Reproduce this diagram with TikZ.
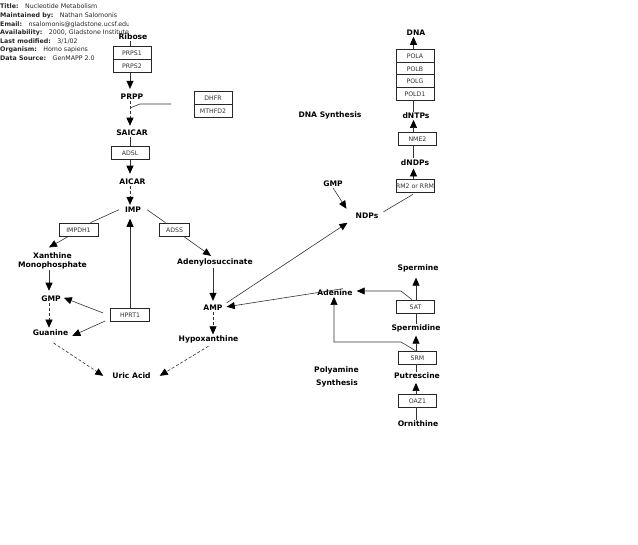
\documentclass[tikz,border=0pt]{standalone}
\usepackage{fontspec}
\setmainfont{DejaVu Sans}
\usetikzlibrary{arrows.meta}
\tikzset{
gene/.style = {draw=black!85, fill=white, line width=0.7pt, minimum width=38pt, minimum height=13pt, inner sep=0pt, text height=5.6pt, text depth=0pt, font=\fontsize{6.2}{7.5}\selectfont, text=black!80}
         }
\tikzset{
metab/.style = {inner sep=1pt, align=center, yshift=-0.8pt, font=\fontsize{7.6}{9}\selectfont\bfseries}
         }
\tikzset{
info/.style = {anchor=west, inner sep=0pt, yshift=-0.6pt, font=\fontsize{6.3}{7.5}\selectfont, text=black!85}
         }
\tikzset{
linha/.style = {draw=black!80, line width=0.6pt}
         }
\tikzset{
seta/.style = {linha, -{Triangle[length=8pt,width=7pt,color=black]}}
         }
\tikzset{
tracejada/.style = {seta, dash pattern=on 3pt off 2pt}
         }
\begin{document}
\begin{tikzpicture}[x=1pt,y=-1pt]
    \useasboundingbox (0,0) rectangle (638,545);

    % CABECALHO
    \begin{scope}
        \clip (0,0) rectangle (128,64);
        \node[info] (TIT) at (0,5.7) {\textbf{Title:}\hspace{6.5pt}Nucleotide Metabolism};
        \node[info] (MAN) at (0,14.8) {\textbf{Maintained by:}\hspace{6.5pt}Nathan Salomonis};
        \node[info] (EMA) at (0,23.8) {\textbf{Email:}\hspace{6.5pt}nsalomonis@gladstone.ucsf.edu};
        \node[info] (AVA) at (0,32.3) {\textbf{Availability:}\hspace{6.5pt}2000, Gladstone Institute};
        \node[info] (LAS) at (0,40.6) {\textbf{Last modified:}\hspace{6.5pt}3/1/02};
        \node[info] (ORG) at (0,49.5) {\textbf{Organism:}\hspace{6.5pt}Homo sapiens};
        \node[info] (SOU) at (0,57.3) {\textbf{Data Source:}\hspace{6.5pt}GenMAPP 2.0};
    \end{scope}

    % EIXOS
    \coordinate (XP) at (130,0);
    \coordinate (XG) at (49,0);
    \coordinate (XA) at (213,0);
    \coordinate (XD) at (413.5,0);
    \coordinate (XS) at (416,0);

    % PURINAS
    \node[metab] (RIB) at (133,36) {Ribose};
    \node[gene] (PRPS1) at (132,53) {PRPS1};
    \node[gene] (PRPS2) at (132,66) {PRPS2};
    \node[metab] (PRPP) at (132,96) {PRPP};
    \node[gene] (DHFR) at (213,98) {DHFR};
    \node[gene] (MTHFD2) at (213,111) {MTHFD2};
    \node[metab] (SAICAR) at (132,132) {SAICAR};
    \node[gene] (ADSL) at (130,153) {ADSL};
    \node[metab] (AICAR) at (132.5,181) {AICAR};
    \node[metab] (IMP) at (133,209) {IMP};
    \node[gene,minimum width=39pt] (IMPDH1) at (78.5,229.5) {IMPDH1};
    \node[gene,minimum width=30pt] (ADSS) at (174.5,229.5) {ADSS};
    \node[metab] (XMP) at (52.5,260) {Xanthine\\Monophosphate};
    \node[metab] (ASUC) at (215,262) {Adenylosuccinate};
    \node[metab] (GMP) at (51,298) {GMP};
    \node[metab] (AMP) at (213,307) {AMP};
    \node[gene,minimum width=39pt] (HPRT1) at (130,315) {HPRT1};
    \node[metab] (GUA) at (50.5,332) {Guanine};
    \node[metab] (HYP) at (208.5,338.5) {Hypoxanthine};
    \node[metab] (URIC) at (131.5,375) {Uric Acid};

    % DNA
    \node[metab] (DNA) at (416,32) {DNA};
    \node[gene] (POLA) at (415,55.5) {POLA};
    \node[gene] (POLB) at (415,68.5) {POLB};
    \node[gene] (POLG) at (415,81) {POLG};
    \node[gene] (POLD1) at (415,93.5) {POLD1};
    \node[metab] (DNTP) at (416,115) {dNTPs};
    \node[metab] (DSYN) at (330,115) {DNA Synthesis};
    \node[gene] (NME2) at (417.5,138.5) {NME2};
    \node[metab] (DNDP) at (415,161.5) {dNDPs};
    \node[gene] (RRM) at (415,185.5) {RM2 or RRM};
    \node[metab] (GMPN) at (333,183) {GMP};
    \node[metab] (NDP) at (367,215) {NDPs};

    % POLIAMINAS
    \node[metab] (SPM) at (418,268) {Spermine};
    \node[metab] (ADE) at (335,292) {Adenine};
    \node[gene] (SAT) at (415.5,306.5) {SAT};
    \node[metab] (SPD) at (416,328) {Spermidine};
    \node[gene] (SRM) at (417.5,357.5) {SRM};
    \node[metab] (PYA) at (336.5,370) {Polyamine};
    \node[metab] (PSY) at (337,383) {Synthesis};
    \node[metab] (PUT) at (417,375) {Putrescine};
    \node[gene] (OAZ1) at (417.5,400.5) {OAZ1};
    \node[metab] (ORN) at (418,423) {Ornithine};

    % VIA PRINCIPAL
    \draw[linha] (XP |- RIB.south) -- (XP |- PRPS1.north);
    \draw[seta,shorten >=4pt] (XP |- PRPS2.south) -- (XP |- PRPP.north);
    \draw[tracejada,shorten >=3pt] (XP |- PRPP.south) -- (XP |- SAICAR.north);
    \draw[linha] (XP |- SAICAR.south) -- (XP |- ADSL.north);
    \draw[seta,shorten >=4pt] (XP |- ADSL.south) -- (XP |- AICAR.north);
    \draw[tracejada,shorten >=1pt] (XP |- AICAR.south) -- (XP |- IMP.north);
    \coordinate (DH1) at (171,104);
    \coordinate (DH2) at (140,104);
    \coordinate (DH3) at (130,108);
    \draw[linha] (DH1) -- (DH2) -- (DH3);

    % RAMOS
    \draw[linha] ([xshift=-5pt]IMP.west) -- ([xshift=12pt]IMPDH1.north);
    \draw[seta] ([xshift=-10pt]IMPDH1.south) -- ([xshift=-3.5pt,yshift=4pt]XMP.north);
    \draw[seta,shorten >=4pt] (XG |- XMP.south) -- (XG |- GMP.north);
    \draw[tracejada,shorten >=1pt] (XG |- GMP.south) -- (XG |- GUA.north);
    \draw[seta,shorten >=5pt] (XP |- HPRT1.north) -- (XP |- IMP.south);
    \draw[seta] ([xshift=-7pt,yshift=2pt]HPRT1.west) -- ([xshift=2pt,yshift=1pt]GMP.east);
    \draw[seta] ([xshift=-5pt,yshift=-6pt]HPRT1.west) -- ([xshift=3pt,yshift=-3pt]GUA.east);
    \draw[tracejada] ([xshift=3pt,yshift=-6pt]GUA.south) -- ([xshift=-8pt]URIC.west);
    \draw[linha] ([xshift=5pt]IMP.east) -- ([xshift=-9pt]ADSS.north);
    \draw[seta] ([xshift=9pt]ADSS.south) -- ([xshift=-4pt,yshift=2pt]ASUC.north);
    \draw[seta,shorten >=3pt] (XA |- ASUC.south) -- (XA |- AMP.north);
    \draw[tracejada] (XA |- AMP.south) -- (XA |- HYP.north);
    \draw[tracejada] ([yshift=-2pt]HYP.south) -- ([xshift=8pt]URIC.east);

    % LIGACOES ENTRE VIAS
    \draw[seta] ([xshift=3pt,yshift=5pt]AMP.east) -- ([xshift=-7pt,yshift=-11pt]NDP.north west);
    \draw[seta] ([xshift=8pt]ADE.north) -- ([xshift=3pt,yshift=1pt]AMP.east);

    % SINTESE DE DNA
    \draw[seta] (GMPN.south) -- ([xshift=-8pt,yshift=3pt]NDP.north west);
    \draw[linha] ([xshift=4pt,yshift=4pt]NDP.east) -- ([xshift=-2pt,yshift=-2pt]RRM.south);
    \draw[seta,shorten >=2pt] (XD |- RRM.north) -- (XD |- DNDP.south);
    \draw[linha] (XD |- DNDP.north) -- (XD |- NME2.south);
    \draw[seta] (XD |- NME2.north) -- (XD |- DNTP.south);
    \draw[linha] (XD |- DNTP.north) -- (XD |- POLD1.south);
    \draw[seta] (XD |- POLA.north) -- (XD |- DNA.south);

    % SINTESE DE POLIAMINAS
    \draw[linha] (XS |- ORN.north) -- (XS |- OAZ1.south);
    \draw[seta,shorten >=3pt] (XS |- OAZ1.north) -- (XS |- PUT.south);
    \draw[linha] (XS |- PUT.north) -- (XS |- SRM.south);
    \draw[seta,shorten >=2pt] (XS |- SRM.north) -- (XS |- SPD.south);
    \draw[linha] (XS |- SPD.north) -- (XS |- SAT.south);
    \draw[seta,shorten >=4pt] (XS |- SAT.north) -- (XS |- SPM.south);
    \coordinate (SA1) at (401,291);
    \coordinate (SR1) at (401,342);
    \coordinate (SR2) at (334,342);
    \draw[seta] ([xshift=-3.5pt]SAT.north) -- (SA1) -- ([xshift=3pt]ADE.east |- SA1);
    \draw[seta] ([xshift=-2pt]SRM.north) -- (SR1) -- (SR2) -- (SR2 |- ADE.south);
\end{tikzpicture}
\end{document}
